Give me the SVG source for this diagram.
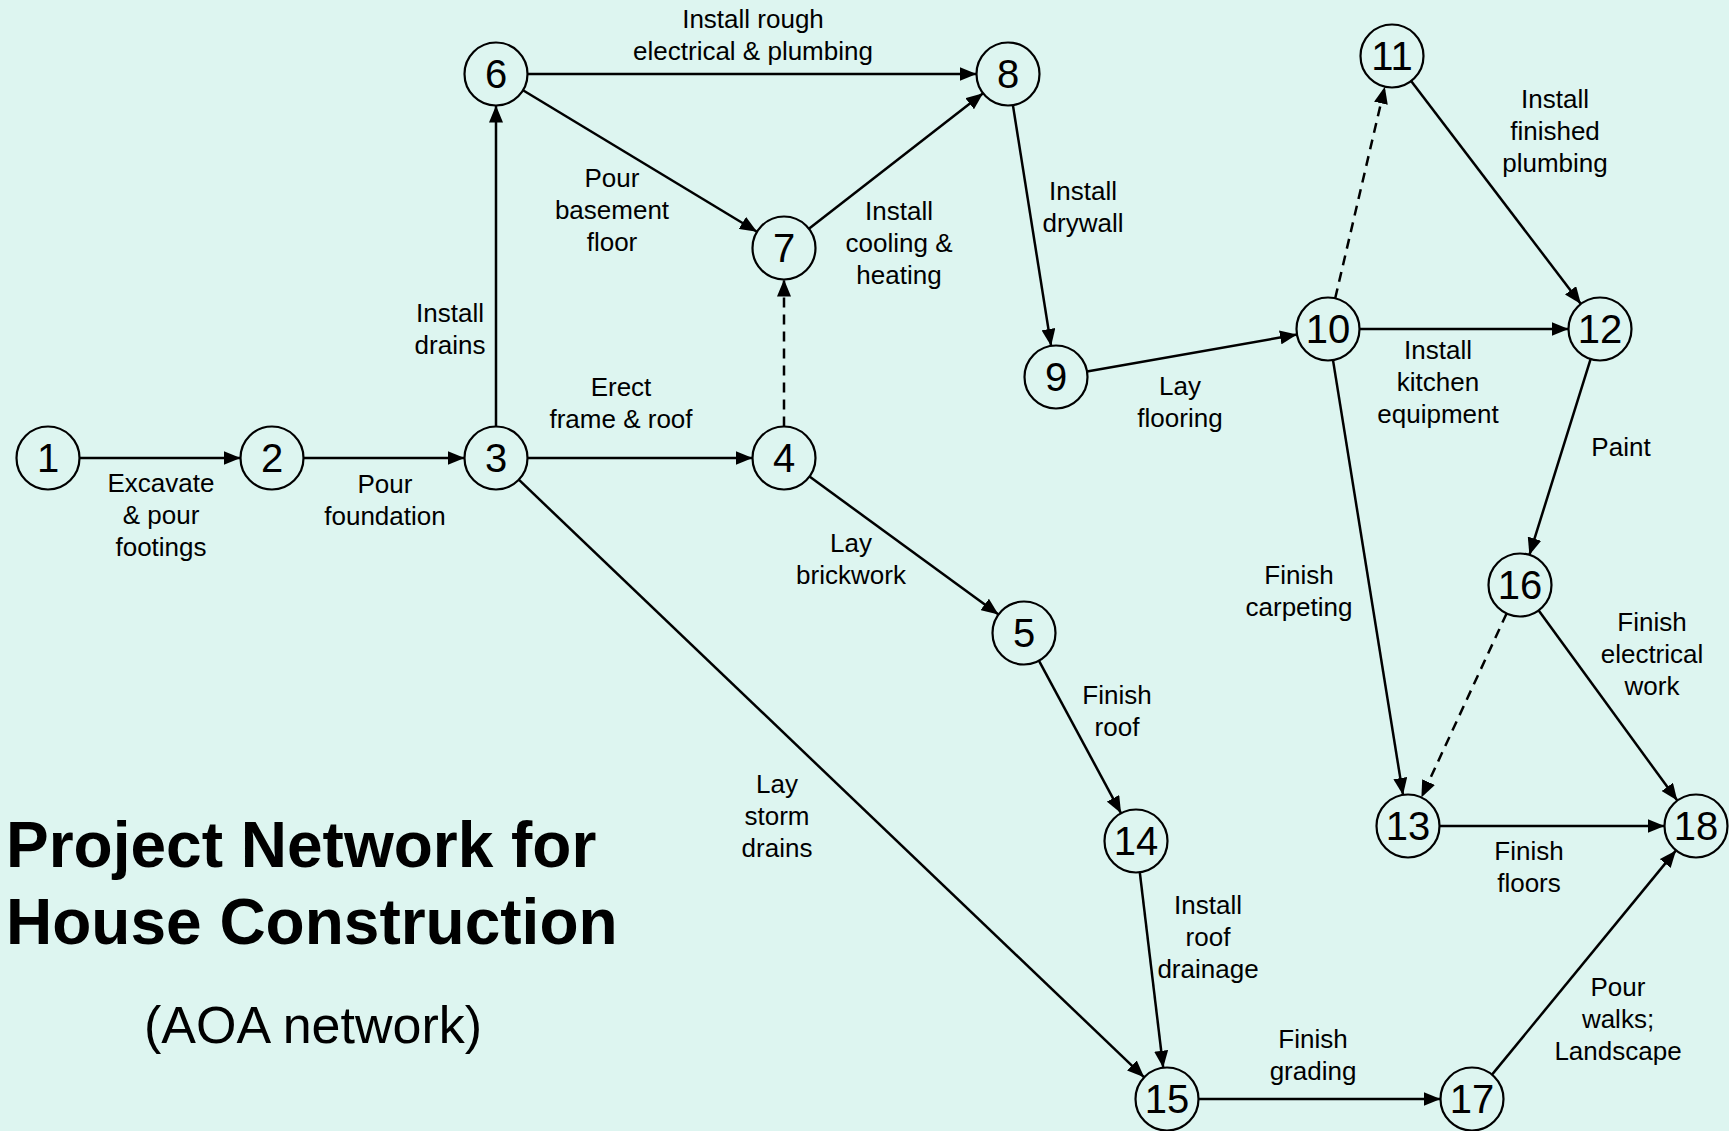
<svg xmlns="http://www.w3.org/2000/svg" width="1729" height="1131" viewBox="0 0 1729 1131">
<defs>
<style>
.node circle{fill:#DDF5F0;stroke:#000;stroke-width:2.2}
.node text{font-family:"Liberation Sans",Arial,sans-serif;font-size:40px;text-anchor:middle;fill:#000}
.lbl{font-family:"Liberation Sans",Arial,sans-serif;font-size:26px;text-anchor:middle;fill:#000}
.edge{stroke:#000;stroke-width:2.5;fill:none;marker-end:url(#ah)}
.dash{stroke-dasharray:10 7}
.title{font-family:"Liberation Sans",Arial,sans-serif;font-weight:bold;font-size:64px;fill:#000}
.sub{font-family:"Liberation Sans",Arial,sans-serif;font-size:52px;fill:#000;text-anchor:middle}
</style>
<marker id="ah" markerUnits="userSpaceOnUse" markerWidth="18" markerHeight="14" refX="17" refY="7" orient="auto">
<path d="M0,0 L17,7 L0,14 z" fill="#000"/>
</marker>
</defs>
<rect width="1729" height="1131" fill="#DDF5F0"/>

<g id="connectors">
<line class="edge" x1="79.5" y1="458" x2="240.5" y2="458"/>
<line class="edge" x1="303.5" y1="458" x2="464.5" y2="458"/>
<line class="edge" x1="527.5" y1="458" x2="752.5" y2="458"/>
<line class="edge" x1="496" y1="426.5" x2="496" y2="105.5"/>
<line class="edge" x1="518.8" y1="479.7" x2="1144.2" y2="1077.3"/>
<line class="edge dash" x1="784" y1="426.5" x2="784" y2="279.5"/>
<line class="edge" x1="809.5" y1="476.6" x2="998.5" y2="614.4"/>
<line class="edge" x1="527.5" y1="74" x2="976.5" y2="74"/>
<line class="edge" x1="523" y1="90.3" x2="757" y2="231.7"/>
<line class="edge" x1="808.9" y1="228.7" x2="983.1" y2="93.3"/>
<line class="edge" x1="1012.9" y1="105.1" x2="1051.1" y2="345.9"/>
<line class="edge" x1="1087" y1="371.5" x2="1297" y2="334.5"/>
<line class="edge dash" x1="1335.2" y1="298.3" x2="1384.8" y2="86.7"/>
<line class="edge" x1="1359.5" y1="329" x2="1568.5" y2="329"/>
<line class="edge" x1="1333" y1="360.1" x2="1403" y2="794.9"/>
<line class="edge" x1="1411.1" y1="81.1" x2="1580.9" y2="303.9"/>
<line class="edge" x1="1590.6" y1="359.1" x2="1529.4" y2="554.9"/>
<line class="edge dash" x1="1506.6" y1="613.5" x2="1421.4" y2="797.5"/>
<line class="edge" x1="1538.7" y1="610.4" x2="1677.3" y2="800.6"/>
<line class="edge" x1="1439.5" y1="826" x2="1664.5" y2="826"/>
<line class="edge" x1="1038.9" y1="660.7" x2="1121.1" y2="813.3"/>
<line class="edge" x1="1139.8" y1="872.3" x2="1163.2" y2="1067.7"/>
<line class="edge" x1="1198.5" y1="1099" x2="1440.5" y2="1099"/>
<line class="edge" x1="1492" y1="1074.6" x2="1676" y2="850.4"/>
</g>

<g id="labels">
<text class="lbl" x="161" y="492">Excavate</text>
<text class="lbl" x="161" y="524">&amp; pour</text>
<text class="lbl" x="161" y="556">footings</text>
<text class="lbl" x="385" y="493">Pour</text>
<text class="lbl" x="385" y="525">foundation</text>
<text class="lbl" x="450" y="322">Install</text>
<text class="lbl" x="450" y="354">drains</text>
<text class="lbl" x="621" y="396">Erect</text>
<text class="lbl" x="621" y="428">frame &amp; roof</text>
<text class="lbl" x="753" y="28">Install rough</text>
<text class="lbl" x="753" y="60">electrical &amp; plumbing</text>
<text class="lbl" x="612" y="187">Pour</text>
<text class="lbl" x="612" y="219">basement</text>
<text class="lbl" x="612" y="251">floor</text>
<text class="lbl" x="899" y="220">Install</text>
<text class="lbl" x="899" y="252">cooling &amp;</text>
<text class="lbl" x="899" y="284">heating</text>
<text class="lbl" x="1083" y="200">Install</text>
<text class="lbl" x="1083" y="232">drywall</text>
<text class="lbl" x="1180" y="395">Lay</text>
<text class="lbl" x="1180" y="427">flooring</text>
<text class="lbl" x="1555" y="108">Install</text>
<text class="lbl" x="1555" y="140">finished</text>
<text class="lbl" x="1555" y="172">plumbing</text>
<text class="lbl" x="1438" y="359">Install</text>
<text class="lbl" x="1438" y="391">kitchen</text>
<text class="lbl" x="1438" y="423">equipment</text>
<text class="lbl" x="1621" y="456">Paint</text>
<text class="lbl" x="851" y="552">Lay</text>
<text class="lbl" x="851" y="584">brickwork</text>
<text class="lbl" x="1299" y="584">Finish</text>
<text class="lbl" x="1299" y="616">carpeting</text>
<text class="lbl" x="1652" y="631">Finish</text>
<text class="lbl" x="1652" y="663">electrical</text>
<text class="lbl" x="1652" y="695">work</text>
<text class="lbl" x="1117" y="704">Finish</text>
<text class="lbl" x="1117" y="736">roof</text>
<text class="lbl" x="777" y="793">Lay</text>
<text class="lbl" x="777" y="825">storm</text>
<text class="lbl" x="777" y="857">drains</text>
<text class="lbl" x="1529" y="860">Finish</text>
<text class="lbl" x="1529" y="892">floors</text>
<text class="lbl" x="1208" y="914">Install</text>
<text class="lbl" x="1208" y="946">roof</text>
<text class="lbl" x="1208" y="978">drainage</text>
<text class="lbl" x="1313" y="1048">Finish</text>
<text class="lbl" x="1313" y="1080">grading</text>
<text class="lbl" x="1618" y="996">Pour</text>
<text class="lbl" x="1618" y="1028">walks;</text>
<text class="lbl" x="1618" y="1060">Landscape</text>
</g>

<g id="node1" class="node"><circle cx="48" cy="458" r="31.5"/><text x="48" y="472">1</text></g>
<g id="node2" class="node"><circle cx="272" cy="458" r="31.5"/><text x="272" y="472">2</text></g>
<g id="node3" class="node"><circle cx="496" cy="458" r="31.5"/><text x="496" y="472">3</text></g>
<g id="node4" class="node"><circle cx="784" cy="458" r="31.5"/><text x="784" y="472">4</text></g>
<g id="node5" class="node"><circle cx="1024" cy="633" r="31.5"/><text x="1024" y="647">5</text></g>
<g id="node6" class="node"><circle cx="496" cy="74" r="31.5"/><text x="496" y="88">6</text></g>
<g id="node7" class="node"><circle cx="784" cy="248" r="31.5"/><text x="784" y="262">7</text></g>
<g id="node8" class="node"><circle cx="1008" cy="74" r="31.5"/><text x="1008" y="88">8</text></g>
<g id="node9" class="node"><circle cx="1056" cy="377" r="31.5"/><text x="1056" y="391">9</text></g>
<g id="node10" class="node"><circle cx="1328" cy="329" r="31.5"/><text x="1328" y="343">10</text></g>
<g id="node11" class="node"><circle cx="1392" cy="56" r="31.5"/><text x="1392" y="70">11</text></g>
<g id="node12" class="node"><circle cx="1600" cy="329" r="31.5"/><text x="1600" y="343">12</text></g>
<g id="node13" class="node"><circle cx="1408" cy="826" r="31.5"/><text x="1408" y="840">13</text></g>
<g id="node14" class="node"><circle cx="1136" cy="841" r="31.5"/><text x="1136" y="855">14</text></g>
<g id="node15" class="node"><circle cx="1167" cy="1099" r="31.5"/><text x="1167" y="1113">15</text></g>
<g id="node16" class="node"><circle cx="1520" cy="585" r="31.5"/><text x="1520" y="599">16</text></g>
<g id="node17" class="node"><circle cx="1472" cy="1099" r="31.5"/><text x="1472" y="1113">17</text></g>
<g id="node18" class="node"><circle cx="1696" cy="826" r="31.5"/><text x="1696" y="840">18</text></g>

<g id="title">
<text class="title" x="6" y="867">Project Network for</text>
<text class="title" x="6" y="944">House Construction</text>
<text class="sub" x="313" y="1043">(AOA network)</text>
</g>
</svg>
